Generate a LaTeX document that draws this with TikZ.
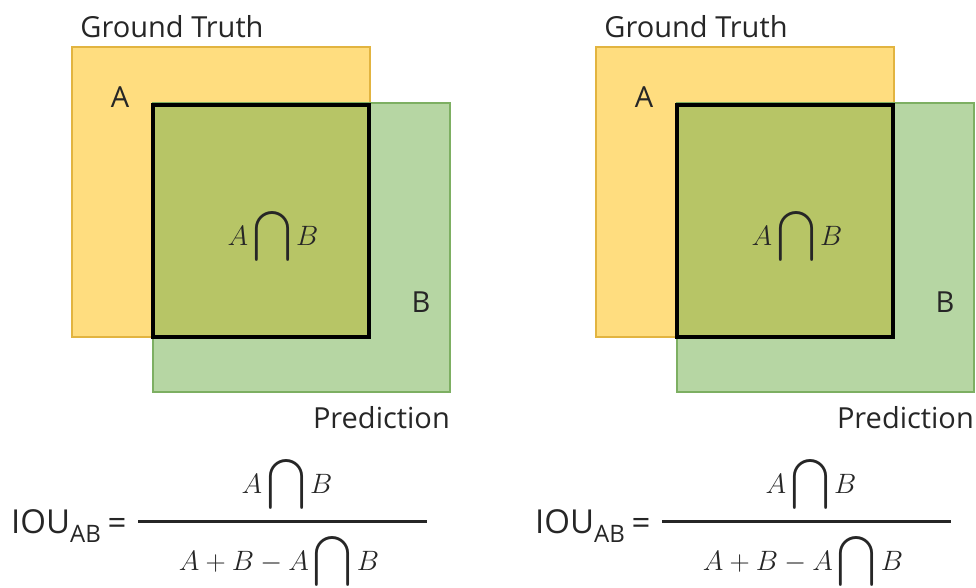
\RequirePackage{fix-cm}
\documentclass[tikz,border=0pt]{standalone}
\usepackage[no-math]{fontspec}
\setmainfont{Open Sans}
\usepackage{graphicx}
\definecolor{gtfill}{HTML}{FFDD7F}
\definecolor{gtedge}{HTML}{E2B440}
\definecolor{prfill}{HTML}{B6D6A3}
\definecolor{predge}{HTML}{7DAF62}
\definecolor{ovfill}{HTML}{B7C566}
\definecolor{txt}{HTML}{262626}
\newcommand\tallcap{\raisebox{-20pt}{\resizebox{38pt}{57pt}{\raisebox{\depth}{$\displaystyle\bigcap$}}}}
\newcommand\capexpr[1]{$#1$\hspace{5pt}\tallcap\hspace{5pt}$B$}
\begin{document}
\begin{tikzpicture}[x=1pt,y=-1pt,
  gtbox/.style={draw=gtedge, fill=gtfill, line width=1.5pt, inner sep=0pt, anchor=north west},
  prbox/.style={draw=predge, fill=prfill, line width=1.5pt, inner sep=0pt, anchor=north west},
  ovbox/.style={draw=black, fill=ovfill, line width=4pt, inner sep=0pt, anchor=north west},
  lbl/.style={font=\fontsize{29}{32}\selectfont, text=txt, inner sep=0pt},
  mth/.style={font=\fontsize{28}{30}\selectfont, text=txt, inner sep=0pt},
  bar/.style={line width=3pt, draw=txt}]
\useasboundingbox (0,0) rectangle (976,587);
\clip (0,0) rectangle (976,587);
\foreach \p/\dx in {L/0,R/524}{
  \node[gtbox, minimum width=298pt, minimum height=290pt] (yel\p) at (71+\dx,46) {};
  \node[prbox, minimum width=297pt, minimum height=289pt] (grn\p) at (152+\dx,102) {};
  \node[ovbox, minimum width=216pt, minimum height=232pt] (ov\p) at (151+\dx,103) {};
  \node[lbl, anchor=base] (gt\p) at (172+\dx,37) {Ground Truth};
  \node[lbl, anchor=base] (la\p) at (120+\dx,107) {A};
  \node[lbl, anchor=base] (lb\p) at (421+\dx,312) {B};
  \node[lbl, anchor=base east] (pd\p) at (450+\dx,428) {Prediction};
  \node[mth, anchor=base] (ab\p) at (273+\dx,245) {\capexpr{A}};
  \node[anchor=base west, inner sep=0pt, text=txt, font=\fontsize{33}{38}\selectfont] (iou\p) at (11+\dx,533) {IOU\raisebox{-9pt}{\fontsize{24}{28}\selectfont AB}};
  \node[anchor=base, inner sep=0pt, text=txt, font=\fontsize{33}{38}\selectfont] (eq\p) at (117+\dx,534) {=};
  \coordinate (bl\p) at (138+\dx,521);
  \coordinate (br\p) at (427+\dx,521);
  \draw[bar] (bl\p) -- (br\p);
  \node[mth, anchor=base] (num\p) at (287+\dx,493) {\capexpr{A}};
  \node[mth, anchor=base] (den\p) at (279+\dx,570) {\capexpr{A+B-A}};
}
\end{tikzpicture}
\end{document}
